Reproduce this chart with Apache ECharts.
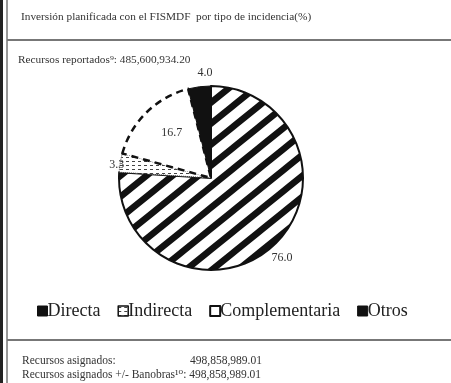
<!DOCTYPE html>
<html>
<head>
<meta charset="utf-8">
<script src="https://cdn.jsdelivr.net/npm/echarts@6/dist/echarts.min.js"></script>
<style>
  html, body { margin: 0; padding: 0; background: #fff; }
  #chart { width: 451px; height: 383px; }
</style>
</head>
<body>
<div id="chart"></div>
<script>
// datos del grafico
const categorias = ['Directa', 'Indirecta', 'Complementaria', 'Otros']
const valores = [76.0, 3.3, 16.7, 4.0]
const etiquetas = ['76.0', '3.3', '16.7', '4.0']

const serif = '"Liberation Serif", "DejaVu Serif", serif'

// patron de rayas diagonales para "Directa"
const rayas = (() => {
  const c = document.createElement('canvas')
  const w = 26, h = 21
  c.width = w; c.height = h
  const ctx = c.getContext('2d')
  ctx.fillStyle = '#fff'
  ctx.fillRect(0, 0, w, h)
  ctx.strokeStyle = '#111'
  ctx.lineWidth = 6.5
  ctx.beginPath()
  for (let k = -1; k <= 3; k++) {
    ctx.moveTo(-w, (k + 1) * h)
    ctx.lineTo((k + 1) * w, -h)
  }
  ctx.stroke()
  return c
})()

// patron punteado para "Indirecta"
const puntos = (() => {
  const c = document.createElement('canvas')
  c.width = 6; c.height = 4
  const ctx = c.getContext('2d')
  ctx.fillStyle = '#fff'
  ctx.fillRect(0, 0, 6, 4)
  ctx.fillStyle = '#444'
  ctx.fillRect(0, 1, 3, 1)
  return c
})()

const estilos = [
  { color: { image: rayas, repeat: 'repeat' }, borderColor: '#111', borderWidth: 2 },
  { color: { image: puntos, repeat: 'repeat' }, borderColor: '#333', borderWidth: 1, borderType: 'dotted' },
  { color: '#fff', borderColor: '#111', borderWidth: 2.5, borderType: [7, 5] },
  { color: '#111', borderColor: '#111', borderWidth: 1 }
]

// iconos de la leyenda
const iconosLeyenda = [
  { color: '#111', borderColor: '#111', borderWidth: 1 },
  { color: { image: puntos, repeat: 'repeat' }, borderColor: '#111', borderWidth: 1.5 },
  { color: '#fff', borderColor: '#111', borderWidth: 2 },
  { color: '#111', borderColor: '#111', borderWidth: 1 }
]

// ajuste fino de etiquetas
const desplaz = [[-8, 7], [4, 2], [-5, -10], [14, -6]]

const myChart = echarts.init(document.getElementById('chart'))

const option = {
  animation: false,
  backgroundColor: '#fff',
  legend: {
    data: categorias.map((name, i) => ({ name, itemStyle: iconosLeyenda[i] })),
    top: 297,
    left: 32,
    itemWidth: 10,
    itemHeight: 10,
    itemGap: 17,
    icon: 'rect',
    textStyle: { fontFamily: serif, fontSize: 18, color: '#222', padding: [0, 0, 0, -5] }
  },
  graphic: [
    // marco
    { type: 'rect', shape: { x: 0, y: 0, width: 3, height: 383 }, style: { fill: '#222' } },
    { type: 'line', shape: { x1: 7, y1: 0, x2: 7, y2: 383 }, style: { stroke: '#333', lineWidth: 1 } },
    { type: 'rect', shape: { x: 7, y: 39, width: 444, height: 2 }, style: { fill: '#777' } },
    { type: 'rect', shape: { x: 7, y: 339, width: 444, height: 2 }, style: { fill: '#777' } },
    // textos
    { type: 'text', left: 21, top: 12, style: { text: 'Inversión planificada con el FISMDF  por tipo de incidencia(%)', font: '11.3px ' + serif, fill: '#333' } },
    { type: 'text', left: 18, top: 55, style: { text: 'Recursos reportados⁹: 485,600,934.20', font: '11.3px ' + serif, fill: '#333' } },
    { type: 'text', left: 22, top: 355, style: { text: 'Recursos asignados:', font: '11.5px ' + serif, fill: '#333' } },
    { type: 'text', left: 190, top: 355, style: { text: '498,858,989.01', font: '11.5px ' + serif, fill: '#333' } },
    { type: 'text', left: 22, top: 369, style: { text: 'Recursos asignados +/- Banobras¹⁰: 498,858,989.01', font: '11.5px ' + serif, fill: '#333' } }
  ],
  series: [
    {
      type: 'pie',
      center: [211, 178],
      radius: [0, 92],
      startAngle: 90,
      clockwise: true,
      silent: true,
      label: {
        show: true,
        position: 'outside',
        fontFamily: serif,
        fontSize: 12,
        color: '#333',
        distanceToLabelLine: 0,
        formatter: p => etiquetas[p.dataIndex]
      },
      labelLine: { show: false, length: 8, length2: 0 },
      labelLayout: p => ({ dx: desplaz[p.dataIndex][0], dy: desplaz[p.dataIndex][1] }),
      data: categorias.map((name, i) => ({
        name,
        value: valores[i],
        itemStyle: estilos[i],
        label: i === 2 ? { position: 'inside' } : undefined,
        labelLine: i === 1 ? { length: 0 } : undefined
      }))
    }
  ]
}

myChart.setOption(option)
</script>
</body>
</html>
